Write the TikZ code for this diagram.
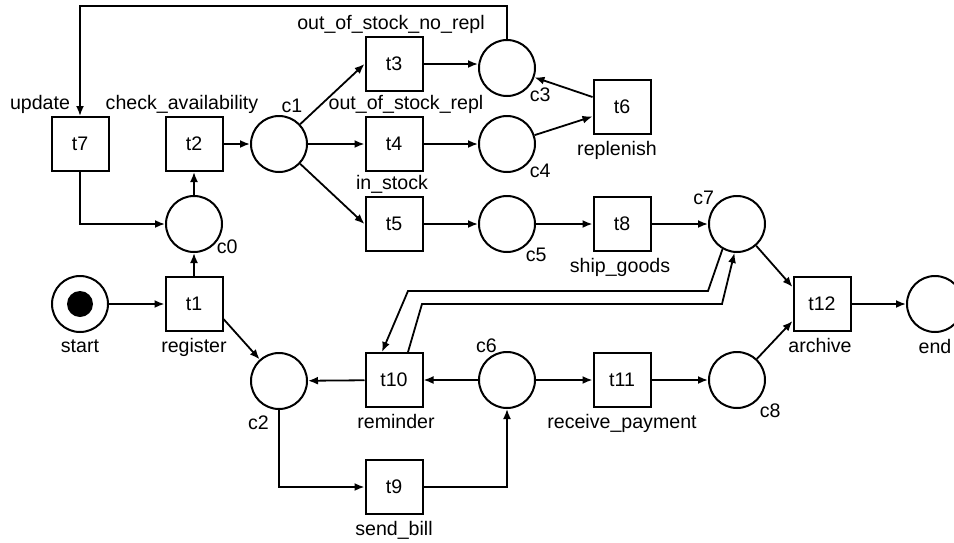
\documentclass[tikz,border=0pt]{standalone}
\usepackage{fontspec}
\setmainfont{Liberation Sans}
\usepackage{tikz}
\usetikzlibrary{arrows.meta, positioning}
\newcommand{\pnfont}{\fontsize{9.8pt}{11pt}\selectfont}

\begin{document}
\begin{tikzpicture}[
  x=0.5pt, y=-0.5pt,
  trans/.style={rectangle, draw, line width=1pt, minimum width=28.5pt,
    minimum height=27pt, inner sep=0pt, font=\pnfont},
  place/.style={circle, draw, line width=1pt, minimum size=28pt, inner sep=0pt},
  token/.style={circle, fill, minimum size=13pt, inner sep=0pt},
  lbl/.style={font=\pnfont, inner sep=1pt},
  arc/.style={line width=0.9pt, -{Latex[length=5pt, width=4pt]}},
  node distance=2pt,
]
  \useasboundingbox (0,0) rectangle (954,542);

  % places
  \node[place] (start) at (80,304) {};
  \node[token] (tok) at (start) {};
  \node[place] (c0) at (194,224) {};
  \node[place] (c1) at (279,144) {};
  \node[place] (c2) at (279,381) {};
  \node[place] (c3) at (507,68) {};
  \node[place] (c4) at (507,144) {};
  \node[place] (c5) at (507,224) {};
  \node[place] (c6) at (507,380) {};
  \node[place] (c7) at (737,224) {};
  \node[place] (c8) at (737,380) {};
  \node[place] (end) at (935,304) {};

  % transitions
  \node[trans] (t1) at (194,304) {t1};
  \node[trans] (t2) at (194,144) {t2};
  \node[trans] (t3) at (394,64) {t3};
  \node[trans] (t4) at (394,144) {t4};
  \node[trans] (t5) at (394,224) {t5};
  \node[trans] (t6) at (622,107) {t6};
  \node[trans] (t7) at (80,144) {t7};
  \node[trans] (t8) at (622,224) {t8};
  \node[trans] (t9) at (394,487) {t9};
  \node[trans] (t10) at (394,380) {t10};
  \node[trans] (t11) at (622,380) {t11};
  \node[trans] (t12) at (822,304) {t12};

  % labels
  \node[lbl, above=0pt of t7, xshift=-20pt] (lt7) {update};
  \node[lbl, above=0pt of t2, xshift=-6pt] (lt2) {check\_availability};
  \node[lbl, above=0pt of c1, xshift=6.5pt] (lc1) {c1};
  \node[lbl, above=0pt of t3, xshift=-1.5pt] (lt3) {out\_of\_stock\_no\_repl};
  \node[lbl, above=0pt of t4, xshift=6pt] (lt4) {out\_of\_stock\_repl};
  \node[lbl, above=0pt of t5, xshift=-1pt] (lt5) {in\_stock};
  \node[lbl, below=of t6, xshift=-2.5pt] (lt6) {replenish};
  \node[lbl, below=of t8, xshift=-1pt] (lt8) {ship\_goods};
  \node[lbl, below=of start] (lstart) {start};
  \node[lbl, below=of t1] (lt1) {register};
  \node[lbl, below=of t10, xshift=1pt] (lt10) {reminder};
  \node[lbl, below=of t9] (lt9) {send\_bill};
  \node[lbl, below=of t11] (lt11) {receive\_payment};
  \node[lbl, below=of t12, xshift=-1pt] (lt12) {archive};
  \node[lbl, below=of end] (lend) {end};
  \node[lbl, right=0pt of c0.south east, yshift=-1pt] (lc0) {c0};
  \node[lbl, right=0pt of c3.south east, yshift=-3pt] (lc3) {c3};
  \node[lbl, right=0pt of c4.south east, yshift=-3pt] (lc4) {c4};
  \node[lbl, right=0pt of c5.south east, xshift=-2pt, yshift=-5pt] (lc5) {c5};
  \node[lbl, left=0pt of c7.north west, yshift=3pt] (lc7) {c7};
  \node[lbl, above=0pt of c6.north west, yshift=2pt] (lc6) {c6};
  \node[lbl, below=0pt of c2.south west, yshift=-6pt] (lc2) {c2};
  \node[lbl, right=0pt of c8.south east, yshift=-5pt] (lc8) {c8};

  % arcs
  \draw[arc] (start) -- (t1);
  \draw[arc] (t1) -- (c0);
  \draw[arc] (c0) -- (t2);
  \draw[arc] (t2) -- (c1);
  \draw[arc] (c1) -- (t3.west);
  \draw[arc] (c1) -- (t4);
  \draw[arc] (c1) -- (t5.west);
  \draw[arc] (t3.east) -- (t3.east -| c3.west);
  \draw[arc] (t4) -- (c4);
  \draw[arc] (t5) -- (c5);
  \draw[arc] (t6) -- (c3);
  \draw[arc] (c4) -- (t6);
  \draw[arc] (c3.north) -- ++(0,-33) -| (t7.north);
  \draw[arc] (t7.south) |- (c0.west);
  \draw[arc] (c5) -- (t8);
  \draw[arc] (t8) -- (c7);
  \draw[arc] (c7) -- (t12.150);
  \draw[arc] (c8) -- (t12.210);
  \draw[arc] (t12) -- (end);
  \draw[arc] (t1.-27) -- (c2);
  \draw[arc] (c2.south) |- (t9.west);
  \draw[arc] (t9.east) -| (c6.south);
  \draw[arc] (t10) -- (c2);
  \draw[arc] (c6) -- (t10);
  \draw[arc] (c6) -- (t11);
  \draw[arc] (t11) -- (c8);
  \draw[arc] (c7.240) -- (708,291) -- (408,291) -- ([xshift=-6pt]t10.north);
  \draw[arc] ([xshift=7pt]t10.north) -- (422,304) -- (722,304) -- (c7.265);
\end{tikzpicture}
\end{document}
